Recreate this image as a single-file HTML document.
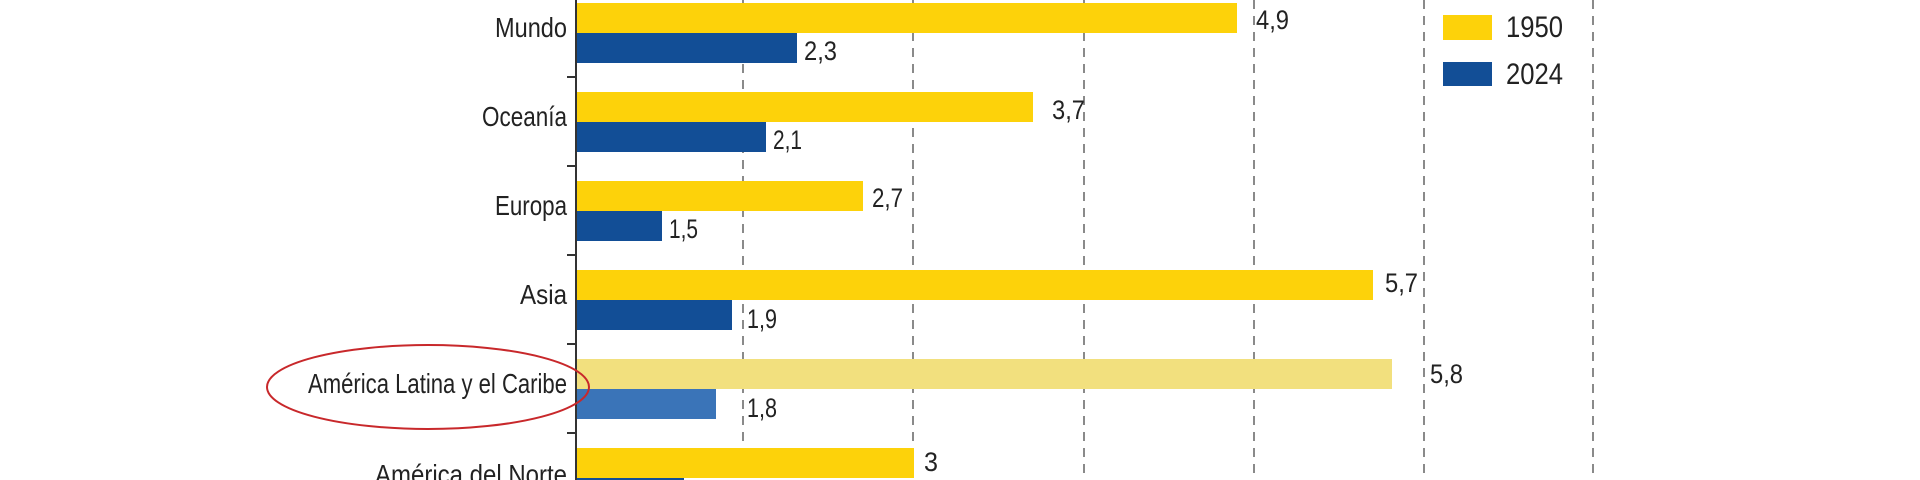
<!DOCTYPE html>
<html><head><meta charset="utf-8"><style>
html,body{margin:0;padding:0;background:#fff;width:1920px;height:480px;overflow:hidden;}
svg{display:block;}
text{font-family:"Liberation Sans Narrow","Liberation Sans",sans-serif;fill:#222;}
</style></head><body>
<svg width="1920" height="480" viewBox="0 0 1920 480" xmlns="http://www.w3.org/2000/svg">
<g stroke="#8a8a8a" stroke-width="2" stroke-dasharray="9,7">
<line x1="743" y1="0" x2="743" y2="480"/>
<line x1="913" y1="0" x2="913" y2="480"/>
<line x1="1084" y1="0" x2="1084" y2="480"/>
<line x1="1254" y1="0" x2="1254" y2="480"/>
<line x1="1424" y1="0" x2="1424" y2="480"/>
<line x1="1593" y1="0" x2="1593" y2="480"/>
</g>
<rect x="576" y="3" width="661" height="30" fill="#FDD20A"/>
<rect x="576" y="33" width="221" height="30" fill="#124E96"/>
<rect x="576" y="92" width="457" height="30" fill="#FDD20A"/>
<rect x="576" y="122" width="190" height="30" fill="#124E96"/>
<rect x="576" y="181" width="287" height="30" fill="#FDD20A"/>
<rect x="576" y="211" width="86" height="30" fill="#124E96"/>
<rect x="576" y="270" width="797" height="30" fill="#FDD20A"/>
<rect x="576" y="300" width="156" height="30" fill="#124E96"/>
<rect x="576" y="359" width="816" height="30" fill="#F2E07E"/>
<rect x="576" y="389" width="140" height="30" fill="#3A74B8"/>
<rect x="576" y="448" width="338" height="30" fill="#FDD20A"/>
<rect x="576" y="478" width="108" height="2" fill="#124E96"/>
<g stroke="#333" stroke-width="2">
<line x1="576" y1="0" x2="576" y2="480"/>
<line x1="567" y1="77" x2="576" y2="77"/>
<line x1="567" y1="166" x2="576" y2="166"/>
<line x1="567" y1="255" x2="576" y2="255"/>
<line x1="567" y1="344" x2="576" y2="344"/>
<line x1="567" y1="433" x2="576" y2="433"/>
</g>
<g font-size="28">
<text x="495" y="37" textLength="72" lengthAdjust="spacingAndGlyphs">Mundo</text>
<text x="482" y="126" textLength="85" lengthAdjust="spacingAndGlyphs">Oceanía</text>
<text x="495" y="215" textLength="72" lengthAdjust="spacingAndGlyphs">Europa</text>
<text x="520" y="304" textLength="47" lengthAdjust="spacingAndGlyphs">Asia</text>
<text x="308" y="393" textLength="259" lengthAdjust="spacingAndGlyphs">América Latina y el Caribe</text>
<text x="375" y="484" textLength="192" lengthAdjust="spacingAndGlyphs">América del Norte</text>
</g>
<g font-size="27">
<text x="1256" y="29" textLength="33" lengthAdjust="spacingAndGlyphs">4,9</text>
<text x="804" y="60" textLength="33" lengthAdjust="spacingAndGlyphs">2,3</text>
<text x="1052" y="119" textLength="33" lengthAdjust="spacingAndGlyphs">3,7</text>
<text x="773" y="149" textLength="29" lengthAdjust="spacingAndGlyphs">2,1</text>
<text x="872" y="207" textLength="31" lengthAdjust="spacingAndGlyphs">2,7</text>
<text x="669" y="238" textLength="29" lengthAdjust="spacingAndGlyphs">1,5</text>
<text x="1385" y="292" textLength="33" lengthAdjust="spacingAndGlyphs">5,7</text>
<text x="747" y="328" textLength="30" lengthAdjust="spacingAndGlyphs">1,9</text>
<text x="1430" y="383" textLength="33" lengthAdjust="spacingAndGlyphs">5,8</text>
<text x="747" y="417" textLength="30" lengthAdjust="spacingAndGlyphs">1,8</text>
<text x="924" y="471" textLength="14" lengthAdjust="spacingAndGlyphs">3</text>
</g>
<rect x="1443" y="15" width="49" height="25" fill="#FDD20A"/>
<rect x="1443" y="62" width="49" height="24" fill="#124E96"/>
<g font-size="30">
<text x="1506" y="37" textLength="57" lengthAdjust="spacingAndGlyphs">1950</text>
<text x="1506" y="84" textLength="57" lengthAdjust="spacingAndGlyphs">2024</text>
</g>
<ellipse cx="428" cy="387" rx="161" ry="42" fill="none" stroke="#C8282B" stroke-width="2"/>
</svg>
</body></html>
